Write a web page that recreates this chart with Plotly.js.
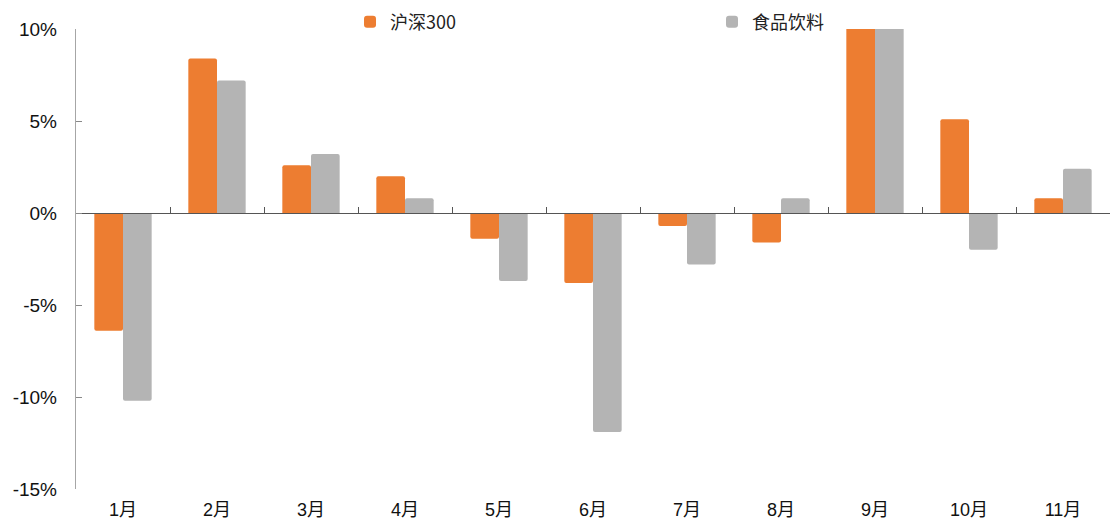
<!DOCTYPE html>
<html><head><meta charset="utf-8">
<script src="https://cdn.plot.ly/plotly-3.0.1.min.js"></script>
<style>html,body{margin:0;padding:0;background:#fff}#c{width:1112px;height:527px}</style>
</head><body><div id="c"></div>
<script>
const months = ['1月','2月','3月','4月','5月','6月','7月','8月','9月','10月','11月'];
const hs300 = [-6.4, 8.4, 2.6, 2.0, -1.4, -3.8, -0.7, -1.6, 10.8, 5.1, 0.8];
const food = [-10.2, 7.2, 3.2, 0.8, -3.7, -11.9, -2.8, 0.8, 10.5, -2.0, 2.4];
const names = ['沪深300','食品饮料'];
const colors = ['#ED7D31','#B4B4B4'];
const yTickVals = [-15,-10,-5,0,5,10];
const yTickText = ['-15%','-10%','-5%','0%','5%','10%'];

const traces = [
  {type:'bar', name:names[0], x:months, y:hs300, marker:{color:colors[0], cornerradius:2}, hoverinfo:'skip'},
  {type:'bar', name:names[1], x:months, y:food, marker:{color:colors[1], cornerradius:2}, hoverinfo:'skip'},
  {type:'bar', x:months, y:months.map(()=>null), xaxis:'x2', yaxis:'y2', showlegend:false, hoverinfo:'skip'}
];
const layout = {
  width:1112, height:527,
  margin:{l:76, r:2, t:29, b:38, autoexpand:false},
  paper_bgcolor:'#fff', plot_bgcolor:'#fff',
  barmode:'group', bargap:0.39, bargroupgap:0,
  font:{family:'Liberation Sans, Arial, Noto Sans CJK SC', color:'#222'},
  showlegend:true,
  legend:{orientation:'h', x:0.265, xanchor:'left', y:1.015, yanchor:'middle',
    entrywidth:317, font:{family:'Noto Sans CJK SC', size:18, color:'#222'}, bgcolor:'rgba(0,0,0,0)'},
  xaxis:{type:'category', showline:false, ticks:'', showgrid:false, zeroline:false,
    tickfont:{size:18, color:'#111', family:'Liberation Sans, Noto Sans CJK SC'}, ticklabelstandoff:8},
  xaxis2:{type:'category', overlaying:'x', matches:'x', anchor:'free', position:0.6, side:'bottom',
    showline:true, linecolor:'#555', linewidth:1, ticks:'inside', ticklen:6, tickcolor:'#555',
    tickson:'boundaries', showticklabels:false, showgrid:false, zeroline:false},
  yaxis:{range:[-15,10], tickmode:'array', tickvals:yTickVals, ticktext:yTickText,
    showline:false, ticks:'', showgrid:false, zeroline:false,
    tickfont:{size:19, color:'#111'}, ticklabelstandoff:18},
  yaxis2:{overlaying:'y', matches:'y', anchor:'x2', side:'left', tickmode:'array', tickvals:yTickVals,
    showline:true, linecolor:'#A6A6A6', linewidth:1, ticks:'inside', ticklen:6, tickwidth:1, tickcolor:'#888',
    showticklabels:false, showgrid:false, zeroline:false}
};
Plotly.newPlot('c', traces, layout, {staticPlot:true});
</script></body></html>
